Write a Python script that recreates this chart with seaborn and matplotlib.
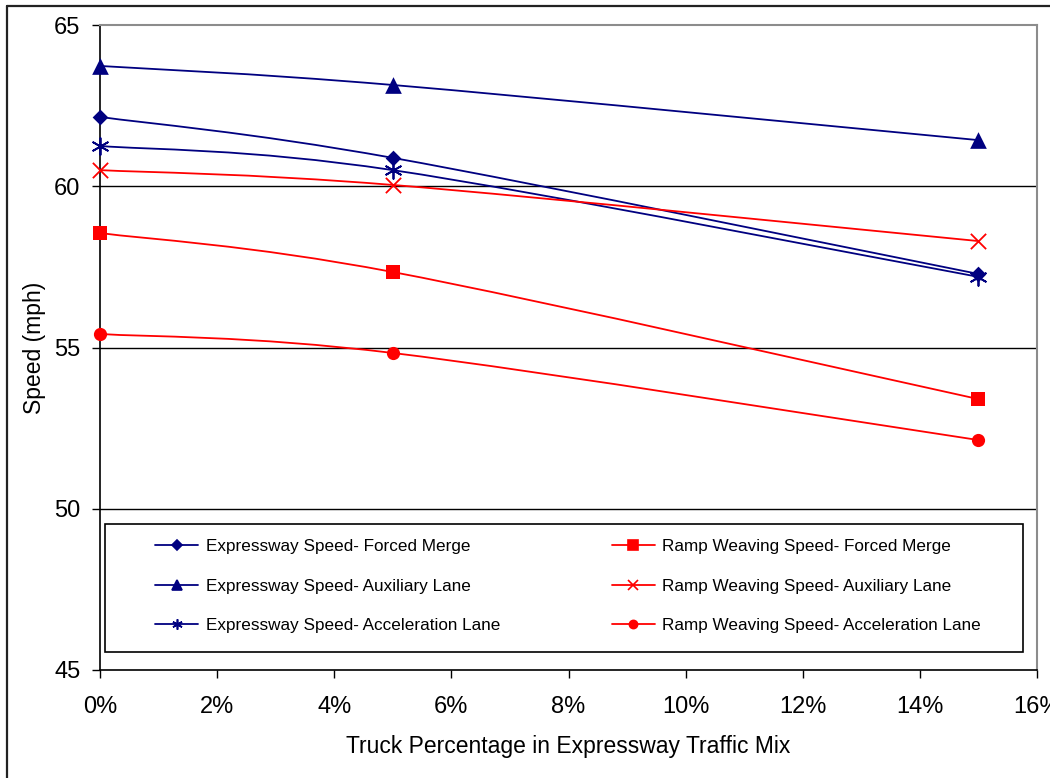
import numpy as np
import pandas as pd
import matplotlib
matplotlib.use('Agg')
import matplotlib.pyplot as plt
from matplotlib.path import Path
from matplotlib.patches import PathPatch, Rectangle
from matplotlib.lines import Line2D
from matplotlib.ticker import FuncFormatter
import seaborn as sns

# ── DATA ─────────────────────────────────────────────────────
truck_pct = [0, 5, 15]

exp_forced = [62.15, 60.88, 57.28]
exp_aux    = [63.73, 63.14, 61.43]
exp_accel  = [61.25, 60.50, 57.19]
ramp_forced = [58.55, 57.34, 53.40]
ramp_aux    = [60.50, 60.04, 58.30]
ramp_accel  = [55.42, 54.83, 52.13]

series_names = [
    'Expressway Speed- Forced Merge',
    'Expressway Speed- Auxiliary Lane',
    'Expressway Speed- Acceleration Lane',
    'Ramp Weaving Speed- Forced Merge',
    'Ramp Weaving Speed- Auxiliary Lane',
    'Ramp Weaving Speed- Acceleration Lane',
]
series_vals = [exp_forced, exp_aux, exp_accel, ramp_forced, ramp_aux, ramp_accel]

NAVY = '#000080'
RED = '#FF0000'
colors = [NAVY, NAVY, NAVY, RED, RED, RED]
markers = ['D', '^', (6, 2, 0), 's', 'x', 'o']
msizes = [8, 12, 12, 10.5, 11, 9.5]

df = pd.DataFrame({
    'x': np.tile(truck_pct, len(series_names)),
    'speed': np.concatenate(series_vals),
    'series': np.repeat(series_names, len(truck_pct)),
})

# ── PLOT ─────────────────────────────────────────────────────
sns.set_style('white')
plt.rcParams['font.family'] = ['Liberation Sans', 'DejaVu Sans']
plt.rcParams['text.color'] = 'black'
plt.rcParams['axes.labelcolor'] = 'black'
plt.rcParams['xtick.color'] = 'black'
plt.rcParams['ytick.color'] = 'black'

fig = plt.figure(figsize=(10.5, 7.78), dpi=100)
ax = fig.add_axes([100 / 1050, 108 / 778, 937 / 1050, 645 / 778])


def smooth_path(xs, ys):
    # Excel-style smoothed line (cubic bezier through the points)
    pts = np.column_stack([xs, ys]).astype(float)
    n = len(pts)
    verts = [pts[0]]
    codes = [Path.MOVETO]
    for i in range(n - 1):
        p0 = pts[max(i - 1, 0)]
        p1 = pts[i]
        p2 = pts[i + 1]
        p3 = pts[min(i + 2, n - 1)]
        c1 = p1 + (p2 - p0) / 6.0
        c2 = p2 - (p3 - p1) / 6.0
        verts += [c1, c2, p2]
        codes += [Path.CURVE4] * 3
    return Path(verts, codes)


for name, col in zip(series_names, colors):
    sub = df[df['series'] == name]
    ax.add_patch(PathPatch(smooth_path(sub['x'], sub['speed']), fill=False,
                           edgecolor=col, lw=1.3, zorder=3))

for name, col, mk, ms in zip(series_names, colors, markers, msizes):
    sub = df[df['series'] == name]
    stroke = mk in ('x', (6, 2, 0))
    sns.scatterplot(data=sub, x='x', y='speed', ax=ax, marker=mk,
                    s=ms ** 2, color=col, edgecolor=None if stroke else col,
                    linewidth=1.3 if stroke else 0, zorder=4,
                    legend=False, clip_on=False)

ax.set_xlim(0, 16)
ax.set_ylim(45, 65)
ax.set_xticks(np.arange(0, 17, 2))
ax.set_yticks(np.arange(45, 66, 5))
ax.xaxis.set_major_formatter(FuncFormatter(lambda v, p: f'{v:.0f}%'))
for yv in [50, 55, 60]:
    ax.axhline(yv, color='black', lw=1.0, zorder=1)

ax.tick_params(axis='both', direction='out', length=6, width=1, color='black',
               labelsize=17, bottom=True, left=True)
ax.tick_params(axis='x', pad=13)
ax.tick_params(axis='y', pad=8)
ax.set_xlabel('Truck Percentage in Expressway Traffic Mix', fontsize=16.5, labelpad=12)
ax.set_ylabel('Speed (mph)', fontsize=16.5, labelpad=6)

for side in ['left', 'bottom']:
    ax.spines[side].set_color('black')
    ax.spines[side].set_linewidth(1.2)
for side in ['top', 'right']:
    ax.spines[side].set_visible(True)
    ax.spines[side].set_color('#8c8c8c')
    ax.spines[side].set_linewidth(1.5)

# legend box
box_x0 = 5 / 937
box_y0 = 18 / 645
ax.add_patch(Rectangle((box_x0, box_y0), (1023 - 105) / 937, 128 / 645,
                       transform=ax.transAxes, facecolor='white',
                       edgecolor='black', lw=1.2, zorder=5))
handles = []
for name, col, mk, ms in zip(series_names, colors, markers, msizes):
    handles.append(Line2D([0], [0], color=col, lw=1.3, marker=mk,
                          markersize=ms * 0.62, markerfacecolor=col,
                          markeredgecolor=col, markeredgewidth=1.2, label=name))
leg = ax.legend(handles=handles, ncol=2, loc='center',
                bbox_to_anchor=(box_x0 + (1023 - 105) / 937 / 2 + 0.0045, box_y0 + 66 / 645),
                frameon=False, fontsize=12.3, handlelength=2.5,
                handletextpad=0.45, columnspacing=6.56, labelspacing=1.42)
leg.set_zorder(6)

# outer frame (partially visible)
fig.add_artist(Line2D([7 / 1050, 7 / 1050], [0, 1 - 5.5 / 778], color='#222222',
                      lw=1.6, transform=fig.transFigure))
fig.add_artist(Line2D([7 / 1050, 1], [1 - 5.5 / 778, 1 - 5.5 / 778], color='#222222',
                      lw=1.6, transform=fig.transFigure))

fig.savefig('out.png', dpi=100)
